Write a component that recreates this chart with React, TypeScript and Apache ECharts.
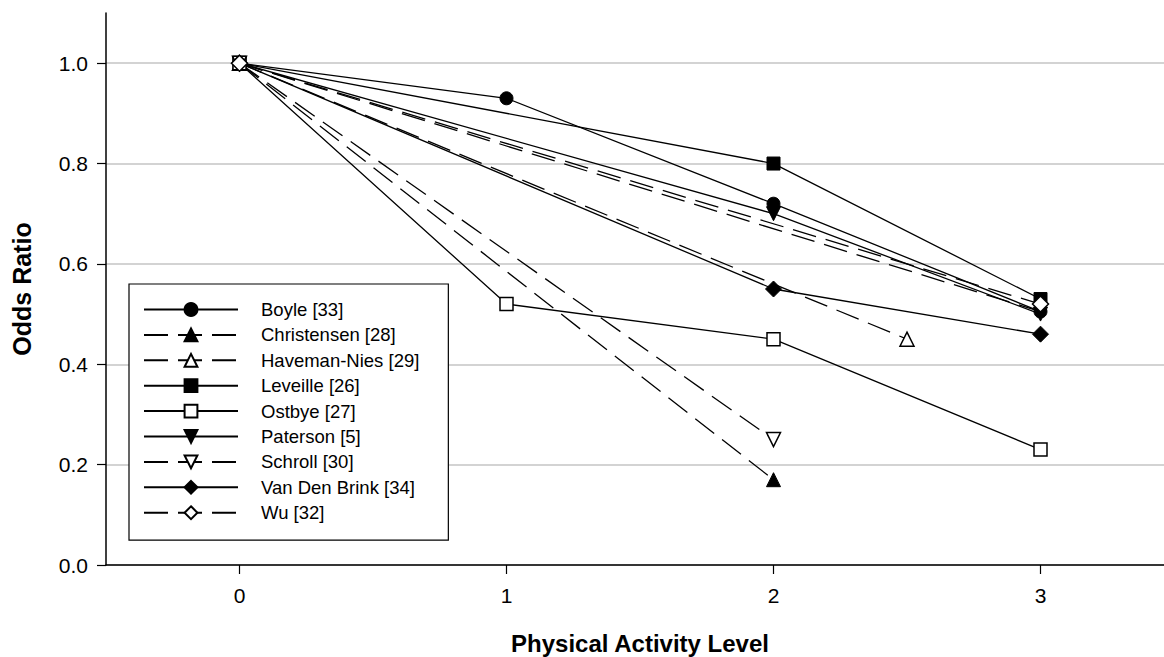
import React, { useEffect, useRef } from "react";
import * as echarts from "echarts";

// ---- data ----
const xTicks = [0, 1, 2, 3];
const yTicks = [0, 0.2, 0.4, 0.6, 0.8, 1.0];

const boyle = [[0, 1.0], [1, 0.93], [2, 0.72], [3, 0.505]];
const christensen = [[0, 1.0], [2, 0.17]];
const havemanNies = [[0, 1.0], [2.5, 0.45]];
const leveille = [[0, 1.0], [2, 0.80], [3, 0.53]];
const ostbye = [[0, 1.0], [1, 0.52], [2, 0.45], [3, 0.23]];
const paterson = [[0, 1.0], [2, 0.70], [3, 0.50]];
const schroll = [[0, 1.0], [2, 0.25]];
const vanDenBrink = [[0, 1.0], [2, 0.55], [3, 0.46]];
const extraDashed = [[0, 1.0], [3, 0.505]];
const wu = [[0, 1.0], [3, 0.52]];

const FONT = "Liberation Sans, Arial, sans-serif";
const DASH = [24, 10];

type Spec = {
  name: string;
  data: number[][];
  dashed: boolean;
  symbol: string;
  filled: boolean;
  rotate?: number;
};

const specs: Spec[] = [
  { name: "Boyle [33]", data: boyle, dashed: false, symbol: "circle", filled: true },
  { name: "Christensen [28]", data: christensen, dashed: true, symbol: "triangle", filled: true },
  { name: "Haveman-Nies [29]", data: havemanNies, dashed: true, symbol: "triangle", filled: false },
  { name: "Leveille [26]", data: leveille, dashed: false, symbol: "rect", filled: true },
  { name: "Ostbye [27]", data: ostbye, dashed: false, symbol: "rect", filled: false },
  { name: "Paterson [5]", data: paterson, dashed: false, symbol: "triangle", filled: true, rotate: 180 },
  { name: "Schroll [30]", data: schroll, dashed: true, symbol: "triangle", filled: false, rotate: 180 },
  { name: "Van Den Brink [34]", data: vanDenBrink, dashed: false, symbol: "diamond", filled: true },
  { name: "extra dashed", data: extraDashed, dashed: true, symbol: "none", filled: true },
  { name: "Wu [32]", data: wu, dashed: true, symbol: "diamond", filled: false },
];

const legendNames = specs.filter((s) => s.name !== "extra dashed").map((s) => s.name);

export default function App() {
  const ref = useRef<HTMLDivElement>(null);

  useEffect(() => {
    document.body.style.margin = "0";
    if (!ref.current) return;
    const chart = echarts.init(ref.current, null, { renderer: "svg" });

    const series = specs.map((s) => ({
      name: s.name,
      type: "line",
      data: s.data,
      symbol: s.symbol,
      symbolSize: s.symbol === "diamond" ? 16 : s.symbol === "triangle" ? 14 : 13,
      symbolRotate: s.rotate || 0,
      showAllSymbol: true,
      lineStyle: { color: "#000", width: 1.3, type: s.dashed ? DASH : "solid" },
      itemStyle: s.filled
        ? { color: "#000", borderColor: "#000", borderWidth: 1 }
        : { color: "#fff", borderColor: "#000", borderWidth: 1.5 },
      emphasis: { disabled: true },
      clip: false,
    }));

    chart.setOption({
      animation: false,
      backgroundColor: "#fff",
      textStyle: { fontFamily: FONT },
      grid: { left: 106, right: -10, top: 13, bottom: 92, containLabel: false, outerBoundsMode: "none" },
      legend: {
        data: legendNames,
        orient: "vertical",
        left: 129,
        top: 284,
        itemWidth: 94,
        itemHeight: 16,
        itemGap: 6.4,
        padding: [16, 29, 18, 14],
        backgroundColor: "#fff",
        borderColor: "#000",
        borderWidth: 1.2,
        selectedMode: false,
        textStyle: { fontFamily: FONT, fontSize: 18.5, color: "#000", padding: [0, 0, 0, 18] },
      },
      xAxis: {
        type: "value",
        min: -0.5,
        max: 3.5,
        name: "Physical Activity Level",
        nameLocation: "middle",
        nameGap: 66,
        nameTextStyle: { fontFamily: FONT, fontSize: 24, fontWeight: "bold", color: "#000" },
        axisLine: { show: true, onZero: false, lineStyle: { color: "#000", width: 1.5 } },
        axisTick: { show: true, length: 9, customValues: xTicks, lineStyle: { color: "#000", width: 1.2 } },
        axisLabel: {
          customValues: xTicks,
          margin: 20,
          fontSize: 21,
          fontFamily: FONT,
          color: "#000",
          formatter: (v: number) => String(v),
        },
        splitLine: { show: false },
      },
      yAxis: {
        type: "value",
        min: 0,
        max: 1.1,
        name: "Odds Ratio",
        nameLocation: "middle",
        nameGap: 72,
        nameRotate: 90,
        nameTextStyle: { fontFamily: FONT, fontSize: 25, fontWeight: "bold", color: "#000" },
        axisLine: { show: true, onZero: false, lineStyle: { color: "#000", width: 1.5 } },
        axisTick: { show: true, length: 9, customValues: yTicks, lineStyle: { color: "#000", width: 1.2 } },
        axisLabel: {
          customValues: yTicks,
          margin: 18,
          fontSize: 21,
          fontFamily: FONT,
          color: "#000",
          formatter: (v: number) => v.toFixed(1),
        },
        splitLine: { show: true, lineStyle: { color: "#c4c4c4", width: 1.5 } },
      },
      series,
    });

    return () => chart.dispose();
  }, []);

  return <div ref={ref} style={{ width: 1164, height: 657 }} />;
}
